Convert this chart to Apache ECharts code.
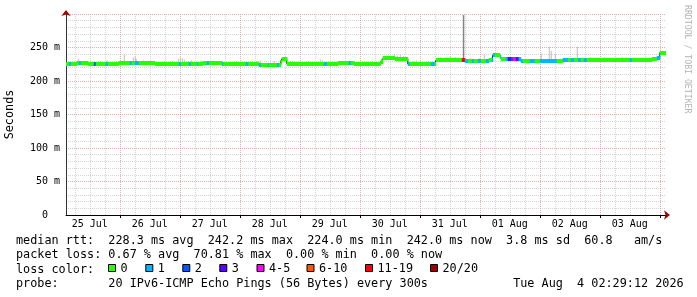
<!DOCTYPE html>
<html><head><meta charset="utf-8">
<script src="https://cdn.jsdelivr.net/npm/echarts@6/dist/echarts.min.js"></script>
<style>html,body{margin:0;padding:0;background:#fff}#c{width:697px;height:297px}</style>
</head><body><div id="c"></div>
<script>
// Time is in hours since 25 Jul 00:00
const startHour = 2.4833;   // 25 Jul 02:29
const endHour = 242.4833;   // 04 Aug 02:29
const dayLabels = ['25 Jul','26 Jul','27 Jul','28 Jul','29 Jul','30 Jul','31 Jul','01 Aug','02 Aug','03 Aug'];
const yTicks = [0, 50, 100, 150, 200, 250];

// median rtt (ms) step series: step start hour, value, lost pings (of 20)
const medianHours = [2.4833,3.6,4.4,6.8,7.6,8.4,11.2,13.6,14.4,18.4,19.2,23.6,28.0,28.8,30.0,31.6,38.0,47.6,48.4,51.6,52.4,54.8,55.2,57.2,58.8,59.6,64.8,65.4,74.4,75.2,79.6,80.4,83.2,83.6,86.8,87.6,88.4,88.8,90.8,105.6,106.8,111.2,115.6,116.4,117.6,128.4,129.2,134.0,139.2,140.0,148.4,150.0,150.4,160.8,162.0,163.2,164.8,165.6,167.2,168.4,170.4,171.6,172.8,173.2,174.0,176.0,176.4,178.4,179.2,180.4,181.2,182.4,183.2,183.6,184.4,185.2,188.0,190.0,192.0,198.8,201.2,203.2,204.4,205.6,207.2,208.4,209.6,210.8,228.0,228.8,236.8,238.8,240.0];
const medianMs    = [225.5,225.5,225.5,226.6,226.6,226.6,225.5,225.5,225.5,225.5,225.5,226.8,226.8,226.8,226.8,226.8,225.6,225.6,225.6,225.6,225.6,225.6,225.6,226.2,226.2,226.2,226.0,226.0,226.0,226.0,224.6,224.6,223.8,223.8,223.8,223.8,229.0,233.2,225.8,225.8,225.8,227.0,227.0,227.0,225.6,229.0,233.6,233.0,225.3,225.3,225.3,225.3,230.8,230.8,229.6,229.6,229.6,229.6,229.6,229.6,229.6,230.8,231.5,238.6,238.6,236.0,233.4,233.4,233.4,233.4,233.4,233.4,233.4,233.4,230.3,230.3,230.3,230.3,230.3,230.3,231.8,232.0,232.0,232.0,232.0,232.0,232.0,232.0,232.0,232.0,233.0,234.5,242.4];
const lossPings   = [0,1,0,0,1,0,0,2,0,1,0,0,1,0,1,0,0,1,0,1,0,1,0,0,1,0,1,0,1,0,1,0,1,0,1,0,0,0,0,1,0,0,1,0,0,0,0,0,1,0,1,0,0,12,1,0,1,0,1,0,1,0,1,1,0,1,0,1,3,2,4,3,2,1,1,0,1,0,1,0,1,0,1,0,1,0,1,0,1,0,0,1,0];

// smoke (spread of individual pings): hour, top of spread (ms)
const smokeHours = [7.2,18.8,25.6,29.2,30.0,30.4,33.2,41.6,47.2,48.0,48.8,49.6,52.4,56.4,78.8,80.0,85.6,92.0,93.6,104.0,104.8,107.2,131.2,132.4,133.6,134.8,136.0,137.2,141.2,142.4,152.0,154.0,156.0,158.0,159.2,164.0,166.0,167.6,169.6,174.4,175.2,192.4,195.6,196.4,198.0,206.8,212.0,215.2,217.6,224.8,226.4];
const smokeTopMs = [233,231,239,235,237,233,231,230,233,235,234,232,231,231,230,231,230,230,230,232,231,230,238,237,240,238,239,237,230,231,236,235,237,236,235,234,233,234,239,241,240,241,251,245,241,251,236,235,236,236,235];
const outlierHours = [161.2];
const outlierTopMs = [298.5];

const lossLabels = ['0','1','2','3','4-5','6-10','11-19','20/20'];
const lossUpper  = [0,1,2,3,5,10,19,20];
const lossColors = ['#26ff00','#00b8ff','#0059ff','#5e00ff','#ff00ff','#ff5500','#ff0000','#a00000'];

const legendRows = [
  'median rtt:  228.3 ms avg  242.2 ms max  224.0 ms min  242.0 ms now  3.8 ms sd  60.8   am/s',
  'packet loss: 0.67 % avg  70.81 % max  0.00 % min  0.00 % now',
  'loss color:',
  'probe:       20 IPv6-ICMP Echo Pings (56 Bytes) every 300s            Tue Aug  4 02:29:12 2026'
];

function lossColor(n){ for (let i=0;i<lossUpper.length;i++) if (n<=lossUpper[i]) return lossColors[i]; return lossColors[lossColors.length-1]; }
function medianAt(h){ let v = medianMs[0]; for (let i=0;i<medianHours.length;i++){ if (medianHours[i]<=h) v = medianMs[i]; else break; } return v; }

const midnights = []; for (let d=1; d<=10; d++) midnights.push(24*d);
const noons = dayLabels.map((_, i) => 12 + 24*i);
const sixHours = []; for (let h=6; h<=240; h+=6) if (h % 24) sixHours.push(h);

const bandData = medianHours.map((h,i) => [h, i+1 < medianHours.length ? medianHours[i+1] : endHour, medianMs[i], lossPings[i]]);
const lineData = medianHours.map((h,i) => [h, medianMs[i]]).concat([[endHour, medianMs[medianMs.length-1]]]);
const smokeData = smokeHours.map((h,i) => [h, h+0.4, medianAt(h), smokeTopMs[i]]);
const outlierData = outlierHours.map((h,i) => [h, h+0.6, medianAt(h), outlierTopMs[i]]);

const MONO = '"DejaVu Sans Mono", monospace';
const FONT = '11.8px ' + MONO;

function clip(r, p){ return echarts.graphic.clipRectByRect(r, {x:p.coordSys.x, y:p.coordSys.y, width:p.coordSys.width, height:p.coordSys.height}); }
function barItem(color){
  return function(params, api){
    const a = api.coord([api.value(0), api.value(3)]);
    const b = api.coord([api.value(1), api.value(2)]);
    const r = clip({x:a[0], y:a[1], width:Math.max(1, b[0]-a[0]), height:b[1]-a[1]}, params);
    return r && {type:'rect', shape:r, style:{fill:color, stroke:null, lineWidth:0}};
  };
}
function bandItem(params, api){
  const a = api.coord([api.value(0), api.value(2)]);
  const b = api.coord([api.value(1), api.value(2)]);
  const yc = Math.round(a[1]);
  const r = clip({x:a[0], y:yc-2, width:b[0]-a[0]+0.5, height:4}, params);
  return r && {type:'rect', shape:r, style:{fill:lossColor(api.value(3)), stroke:null, lineWidth:0}};
}

const graphics = [];
legendRows.forEach((t, i) => {
  graphics.push({type:'text', x:16, y:241 + i*14.3, silent:true, style:{text:t, font:FONT, fill:'#000', verticalAlign:'middle'}});
});
const boxX = [108, 145.3, 182.3, 219.3, 256.5, 306.5, 365, 430];
lossLabels.forEach((lab, i) => {
  graphics.push({type:'rect', silent:true, shape:{x:boxX[i]+0.5, y:264.5, width:7, height:7}, style:{fill:lossColors[i], stroke:'#000', lineWidth:1}});
  graphics.push({type:'text', x:boxX[i]+12.5, y:269.3, silent:true, style:{text:lab, font:FONT, fill:'#000', verticalAlign:'middle'}});
});
graphics.push({type:'text', x:687.5, y:5, rotation:-Math.PI/2, silent:true, style:{text:'RRDTOOL / TOBI OETIKER', font:'8.2px ' + MONO, fill:'#b4b4b4', verticalAlign:'middle', align:'left'}});

const chart = echarts.init(document.getElementById('c'), null, {renderer:'canvas'});
chart.setOption({
  animation:false,
  backgroundColor:'#fff',
  grid:{left:66, right:31, top:14, bottom:82, containLabel:false, outerBoundsMode:'none'},
  xAxis:[
    {type:'value', min:startHour, max:endHour,
     axisLine:{show:true, onZero:false, lineStyle:{color:'#000', width:1}},
     axisTick:{show:true, customValues:midnights, length:3, lineStyle:{color:'#000'}},
     axisLabel:{customValues:noons, margin:4, color:'#000', fontFamily:MONO, fontSize:10,
                formatter:v => dayLabels[Math.round((v-12)/24)]},
     splitLine:{show:true, lineStyle:{color:'rgba(215,130,130,0.65)', width:1, type:[1,1]}}},
    {type:'value', min:startHour, max:endHour, position:'bottom',
     axisLine:{show:true, onZero:false, symbol:['none','arrow'], symbolSize:[7,6], symbolOffset:[0,4], lineStyle:{color:'#a00000', width:0}},
     axisTick:{show:false, customValues:sixHours},
     axisLabel:{show:false},
     splitLine:{show:true, lineStyle:{color:'rgba(170,170,170,0.5)', width:1, type:[1,1]}}}
  ],
  yAxis:[
    {type:'value', min:0, max:300, interval:50,
     name:'Seconds', nameLocation:'middle', nameGap:50, nameRotate:90,
     nameTextStyle:{fontFamily:MONO, fontSize:11.8, color:'#000'},
     axisLine:{show:true, lineStyle:{color:'#333', width:1}},
     axisTick:{show:false},
     axisLabel:{margin:6, color:'#000', fontFamily:MONO, fontSize:10,
                formatter:v => v === 0 ? '0  ' : (v >= 300 ? '' : v + ' m')},
     splitLine:{show:true, lineStyle:{color:'rgba(215,130,130,0.65)', width:1, type:[1,1]}},
     minorTick:{show:false, splitNumber:5},
     minorSplitLine:{show:true, lineStyle:{color:'rgba(170,170,170,0.5)', width:1, type:[1,1]}}},
    {type:'value', min:0, max:300, position:'left',
     axisLine:{show:true, symbol:['none','arrow'], symbolSize:[7,6], symbolOffset:[0,4], lineStyle:{color:'#a00000', width:0}},
     axisTick:{show:false}, axisLabel:{show:false}, splitLine:{show:false}}
  ],
  series:[
    {type:'custom', name:'smoke', z:1, xAxisIndex:0, yAxisIndex:0, renderItem:barItem('#bdbdbd'), data:smokeData, encode:{x:[0,1], y:[2,3]}, silent:true},
    {type:'custom', name:'outlier', z:1, xAxisIndex:0, yAxisIndex:0, renderItem:barItem('#858585'), data:outlierData, encode:{x:[0,1], y:[2,3]}, silent:true},
    {type:'line', name:'median', z:2, xAxisIndex:0, yAxisIndex:0, data:lineData, step:'end', showSymbol:false, symbol:'none', lineStyle:{color:'#202020', width:1}, silent:true},
    {type:'custom', name:'median loss', z:5, xAxisIndex:0, yAxisIndex:0, renderItem:bandItem, data:bandData, encode:{x:[0,1], y:2}, silent:true}
  ],
  graphic:graphics
});
</script></body></html>
